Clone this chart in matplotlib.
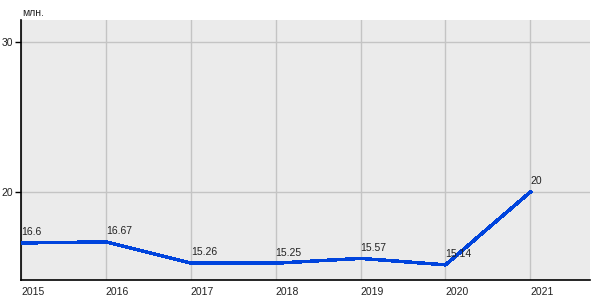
import matplotlib
matplotlib.use("Agg")
import matplotlib.pyplot as plt

# data
years = [2015, 2016, 2017, 2018, 2019, 2020, 2021]
values = [16.6, 16.67, 15.26, 15.25, 15.57, 15.14, 20]
value_labels = ["16.6", "16.67", "15.26", "15.25", "15.57", "15.14", "20"]
y_ticks = [20, 30]
unit_label = "млн."

plt.rcParams["font.family"] = ["Liberation Sans", "DejaVu Sans"]
plt.rcParams["font.size"] = 7.5

fig = plt.figure(figsize=(6, 3), dpi=100)
ax = fig.add_axes([0.035, 0.0667, 0.948, 0.8667])
ax.set_facecolor("#ebebeb")

ax.plot(years, values, color="#0044dd", linewidth=1.8, antialiased=False, zorder=3)

for x, y, s in zip(years, values, value_labels):
    ax.annotate(s, (x, y), xytext=(0, 4), textcoords="offset points",
                ha="left", va="bottom", fontsize=7.5, color="#222222", zorder=4)

ax.set_xlim(2015, 2021.7)
ax.set_ylim(14.13, 31.47)
ax.set_xticks(years)
ax.set_xticklabels([str(y) for y in years], ha="left")
ax.set_yticks(y_ticks)
ax.grid(True, color="#c4c4c4", linewidth=1)
ax.set_axisbelow(True)

for side in ["top", "right"]:
    ax.spines[side].set_visible(False)
ax.spines["left"].set_linewidth(1.2)
ax.spines["bottom"].set_linewidth(1.2)
ax.tick_params(axis="x", length=0, pad=5, colors="#222222")
ax.tick_params(axis="y", length=4, width=1, pad=2, colors="#222222")
ax.tick_params(axis="y", color="black")

fig.text(0.037, 0.955, unit_label, ha="left", va="center", fontsize=7.5, color="#222222")

fig.savefig("out.png", dpi=100)
